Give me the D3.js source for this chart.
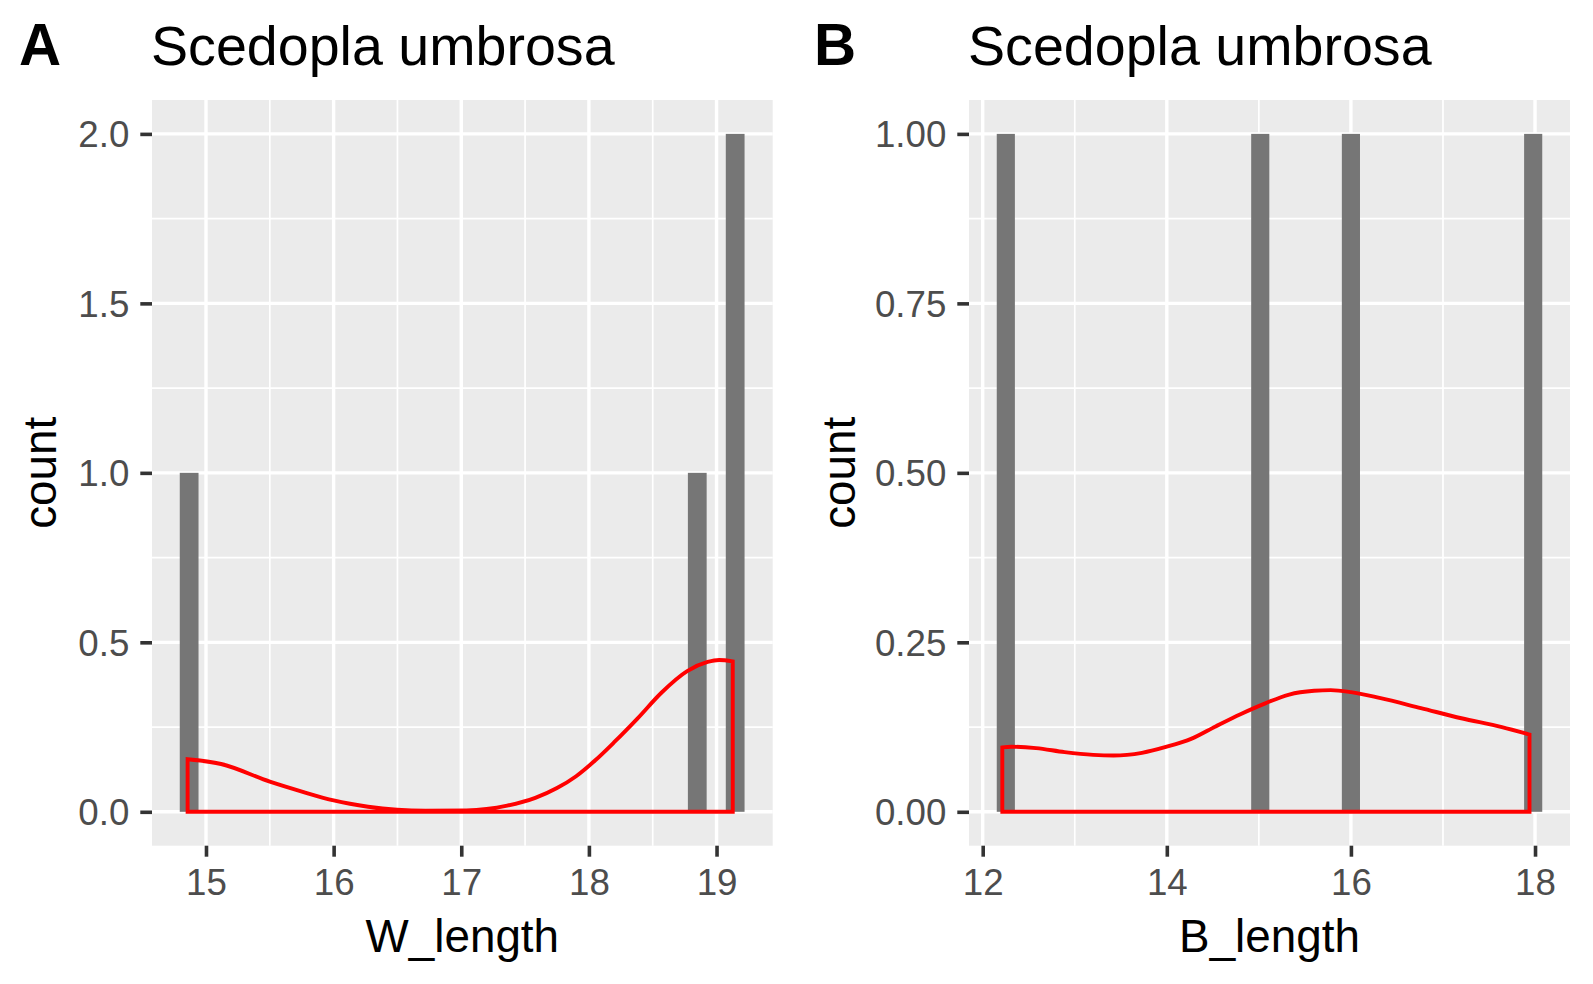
<!DOCTYPE html>
<html>
<head>
<meta charset="utf-8">
<script src="https://cdn.jsdelivr.net/npm/d3@7"></script>
<style>
  body { margin: 0; background: #fff; }
  text { font-family: "Liberation Sans", Arial, sans-serif; }
</style>
</head>
<body>
<div id="chart"></div>
<script>
// panel A - W_length
const aBarMids = [14.868, 18.849, 19.146];
const aBarCounts = [1, 1, 2];
const aBinWidth = 0.147;
const aDensity = [
  [14.856, 0.155], [15.118, 0.141], [15.5, 0.089], [15.758, 0.059], [16.0, 0.0335],
  [16.27, 0.015], [16.72, 0.003], [17.04, 0.004], [17.36, 0.018], [17.58, 0.041],
  [17.75, 0.07], [17.9, 0.105], [18.05, 0.152], [18.2, 0.206], [18.38, 0.275],
  [18.57, 0.352], [18.77, 0.415], [18.93, 0.442], [19.02, 0.448], [19.127, 0.444]
];
const aXTicks = [15, 16, 17, 18, 19];
const aYTicks = [0, 0.5, 1, 1.5, 2];
const aYLabels = ["0.0", "0.5", "1.0", "1.5", "2.0"];

// panel B - B_length
const bBarMids = [12.251, 15.015, 16.0, 17.98];
const bBarCounts = [1, 1, 1, 1];
const bBinWidth = 0.197;
const bDensity = [
  [12.213, 0.095], [12.31, 0.096], [12.58, 0.094], [12.89, 0.088], [13.2, 0.084],
  [13.42, 0.083], [13.73, 0.087], [14.0, 0.096], [14.27, 0.108], [14.53, 0.126],
  [14.8, 0.144], [15.07, 0.16], [15.33, 0.173], [15.6, 0.1785], [15.78, 0.1795],
  [16.0, 0.1765], [16.31, 0.168], [16.76, 0.153], [17.2, 0.138], [17.64, 0.125],
  [17.94, 0.114]
];
const bXTicks = [12, 14, 16, 18];
const bYTicks = [0, 0.25, 0.5, 0.75, 1];
const bYLabels = ["0.00", "0.25", "0.50", "0.75", "1.00"];

const W = 1593, H = 984;
const theme = {
  panel: "#EBEBEB", grid: "#FFFFFF", bar: "#767676", dens: "#FF0000",
  tick: "#333333", tickText: "#4D4D4D"
};

const svg = d3.select("#chart").append("svg")
  .attr("width", W).attr("height", H)
  .attr("viewBox", [0, 0, W, H]);

function midpoints(ticks, lo, hi) {
  const step = ticks[1] - ticks[0];
  const out = [];
  for (let v = ticks[0] - step / 2; v <= hi; v += step) if (v >= lo) out.push(v);
  return out;
}

function drawPanel(opt) {
  const x = d3.scaleLinear().domain(opt.xDomain).range([opt.left, opt.right]);
  const y = d3.scaleLinear().domain(opt.yDomain).range([opt.bottom, opt.top]);
  const g = svg.append("g");

  g.append("rect")
    .attr("x", opt.left).attr("y", opt.top)
    .attr("width", opt.right - opt.left).attr("height", opt.bottom - opt.top)
    .attr("fill", theme.panel);

  // minor grid
  g.selectAll(".xminor").data(midpoints(opt.xTicks, opt.xDomain[0], opt.xDomain[1])).join("line")
    .attr("x1", d => x(d)).attr("x2", d => x(d)).attr("y1", opt.top).attr("y2", opt.bottom)
    .attr("stroke", theme.grid).attr("stroke-width", 1.7);
  g.selectAll(".yminor").data(midpoints(opt.yTicks, opt.yDomain[0], opt.yDomain[1])).join("line")
    .attr("y1", d => y(d)).attr("y2", d => y(d)).attr("x1", opt.left).attr("x2", opt.right)
    .attr("stroke", theme.grid).attr("stroke-width", 1.7);
  // major grid
  g.selectAll(".xmajor").data(opt.xTicks).join("line")
    .attr("x1", d => x(d)).attr("x2", d => x(d)).attr("y1", opt.top).attr("y2", opt.bottom)
    .attr("stroke", theme.grid).attr("stroke-width", 3.4);
  g.selectAll(".ymajor").data(opt.yTicks).join("line")
    .attr("y1", d => y(d)).attr("y2", d => y(d)).attr("x1", opt.left).attr("x2", opt.right)
    .attr("stroke", theme.grid).attr("stroke-width", 3.4);

  // histogram bars
  g.selectAll(".bar").data(opt.mids).join("rect")
    .attr("x", d => x(d - opt.binWidth / 2))
    .attr("width", d => x(d + opt.binWidth / 2) - x(d - opt.binWidth / 2))
    .attr("y", (d, i) => y(opt.counts[i]))
    .attr("height", (d, i) => y(0) - y(opt.counts[i]))
    .attr("fill", theme.bar);

  // density outline
  const area = d3.area()
    .x(d => x(d[0])).y0(y(0)).y1(d => y(d[1]))
    .curve(d3.curveMonotoneX);
  g.append("path").attr("d", area(opt.density))
    .attr("fill", "none").attr("stroke", theme.dens)
    .attr("stroke-width", 3.9).attr("stroke-linejoin", "miter");

  // axes
  const xAxis = g.append("g").attr("transform", `translate(0,${opt.bottom})`)
    .call(d3.axisBottom(x).tickValues(opt.xTicks).tickSize(11).tickPadding(9).tickFormat(d3.format("d")));
  const yAxis = g.append("g").attr("transform", `translate(${opt.left},0)`)
    .call(d3.axisLeft(y).tickValues(opt.yTicks).tickSize(11.7).tickPadding(11)
      .tickFormat((d, i) => opt.yLabels[i]));
  [xAxis, yAxis].forEach(ax => {
    ax.select(".domain").remove();
    ax.selectAll(".tick line").attr("stroke", theme.tick).attr("stroke-width", 3.6);
    ax.selectAll(".tick text").attr("fill", theme.tickText)
      .style("font-size", "36.7px").style("font-family", '"Liberation Sans", Arial, sans-serif');
  });
  xAxis.selectAll(".tick text").attr("dy", null).attr("y", 49);
  yAxis.selectAll(".tick text").attr("dy", "0.355em");

  // axis titles
  g.append("text").attr("x", (opt.left + opt.right) / 2).attr("y", 951.5)
    .attr("text-anchor", "middle").style("font-size", "45.8px").text(opt.xTitle);
  g.append("text")
    .attr("transform", `translate(${opt.yTitleX},${(opt.top + opt.bottom) / 2}) rotate(-90)`)
    .attr("text-anchor", "middle").style("font-size", "45.8px").text("count");

  // titles
  g.append("text").attr("x", opt.labelX).attr("y", 65)
    .style("font-size", "58.3px").style("font-weight", "bold").text(opt.label);
  g.append("text").attr("x", opt.left - 1).attr("y", 65)
    .style("font-size", "55.6px").text(opt.title);
}

drawPanel({
  label: "A", labelX: 19, title: "Scedopla umbrosa", xTitle: "W_length",
  left: 152, right: 772.7, top: 100, bottom: 845.7, yTitleX: 56,
  xDomain: [14.577, 19.44], yDomain: [-0.1, 2.1],
  xTicks: aXTicks, yTicks: aYTicks, yLabels: aYLabels,
  mids: aBarMids, counts: aBarCounts, binWidth: aBinWidth, density: aDensity
});

drawPanel({
  label: "B", labelX: 814, title: "Scedopla umbrosa", xTitle: "B_length",
  left: 969, right: 1570, top: 100, bottom: 845.7, yTitleX: 855,
  xDomain: [11.851, 18.38], yDomain: [-0.05, 1.05],
  xTicks: bXTicks, yTicks: bYTicks, yLabels: bYLabels,
  mids: bBarMids, counts: bBarCounts, binWidth: bBinWidth, density: bDensity
});
</script>
</body>
</html>
